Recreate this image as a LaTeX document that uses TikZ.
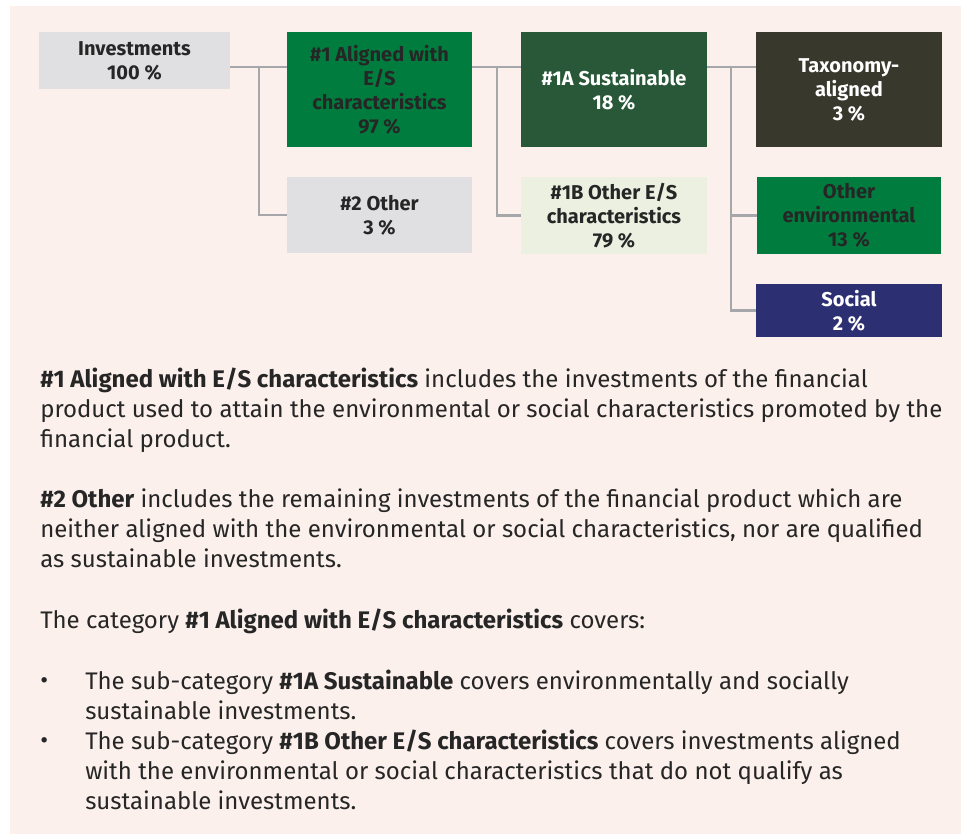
\documentclass[tikz,border=0pt]{standalone}
\usepackage{fontspec}
\setmainfont{Fira Sans}
\definecolor{bgpink}{HTML}{FBF0EB}
\definecolor{boxgrey}{HTML}{E0E0E3}
\definecolor{esgreen}{HTML}{007D3E}
\definecolor{susgreen}{HTML}{285838}
\definecolor{palegreen}{HTML}{EBF0E1}
\definecolor{taxdark}{HTML}{38382D}
\definecolor{socnavy}{HTML}{2D2F73}
\definecolor{linkgrey}{HTML}{A5A7AB}
\definecolor{txt}{HTML}{262626}

\begin{document}
\begin{tikzpicture}[x=0.75pt,y=-0.75pt,
  box/.style 2 args={minimum width=#1*0.75pt, minimum height=#2*0.75pt,
    inner sep=1pt, align=center, text=txt,
    font=\fontsize{15}{18}\selectfont\bfseries},
  link/.style={draw=linkgrey, line width=2.2pt},
  body/.style={anchor=north west, inner sep=0pt, align=left, text=txt,
    font=\fontsize{18}{22.5}\selectfont}]
\useasboundingbox (0,0) rectangle (961,834);
\fill[bgpink] (10,6) rectangle (961,834);

% boxes
\node[box={191}{57}, fill=boxgrey] (inv) at (134.5,60.5) {Investments\\100~\%};
\node[box={185}{115}, fill=esgreen] (al) at (379.5,89.5) {\#1 Aligned with\\E/S\\characteristics\\97~\%};
\node[box={185}{76}, fill=boxgrey] (oth) at (379.5,215) {\#2 Other\\3~\%};
\node[box={186}{115}, fill=susgreen, text=white] (sus) at (614,89.5) {\#1A Sustainable\\18~\%};
\node[box={186}{77}, fill=palegreen] (oes) at (614,215.5) {\#1B Other E/S\\characteristics\\79~\%};
\node[box={186}{115}, fill=taxdark, text=white] (tax) at (849,89.5) {Taxonomy-\\aligned\\3~\%};
\node[box={184}{77}, fill=esgreen] (env) at (849,215.5) {Other\\environmental\\13~\%};
\node[box={186}{53}, fill=socnavy, text=white] (soc) at (849,310.5) {Social\\2~\%};

% connectors
\coordinate (j1) at (259,67);
\coordinate (j2) at (497,67);
\coordinate (j3) at (731,67);
\draw[link] (inv.east |- j1) -- (al.west |- j1);
\draw[link] (j1) |- (oth.west);
\draw[link] (al.east |- j2) -- (sus.west |- j2);
\draw[link] (j2) |- (oes.west);
\draw[link] (sus.east |- j3) -- (tax.west |- j3);
\draw[link] (j3) |- (env.west);
\draw[link] (j3) |- (soc.west);

% explanations
\node[body] (p1) at (40,368) {\textbf{\#1 Aligned with E/S characteristics} includes the investments of the financial\\
product used to attain the environmental or social characteristics promoted by the\\
financial product.};
\node[body] (p2) at (40,489) {\textbf{\#2 Other} includes the remaining investments of the financial product which are\\
neither aligned with the environmental or social characteristics, nor are qualified\\
as sustainable investments.};
\node[body] (p3) at (40,609) {The category \textbf{\#1 Aligned with E/S characteristics} covers:};
\node[body] (b1) at (40,670) {\textbullet\vphantom{Thb\#}};
\node[body] (i1) at (85,670) {The sub-category \textbf{\#1A Sustainable} covers environmentally and socially\\
sustainable investments.};
\node[body] (b2) at (40,730) {\textbullet\vphantom{Thb\#}};
\node[body] (i2) at (85,730) {The sub-category \textbf{\#1B Other E/S characteristics} covers investments aligned\\
with the environmental or social characteristics that do not qualify as\\
sustainable investments.};
\end{tikzpicture}
\end{document}
